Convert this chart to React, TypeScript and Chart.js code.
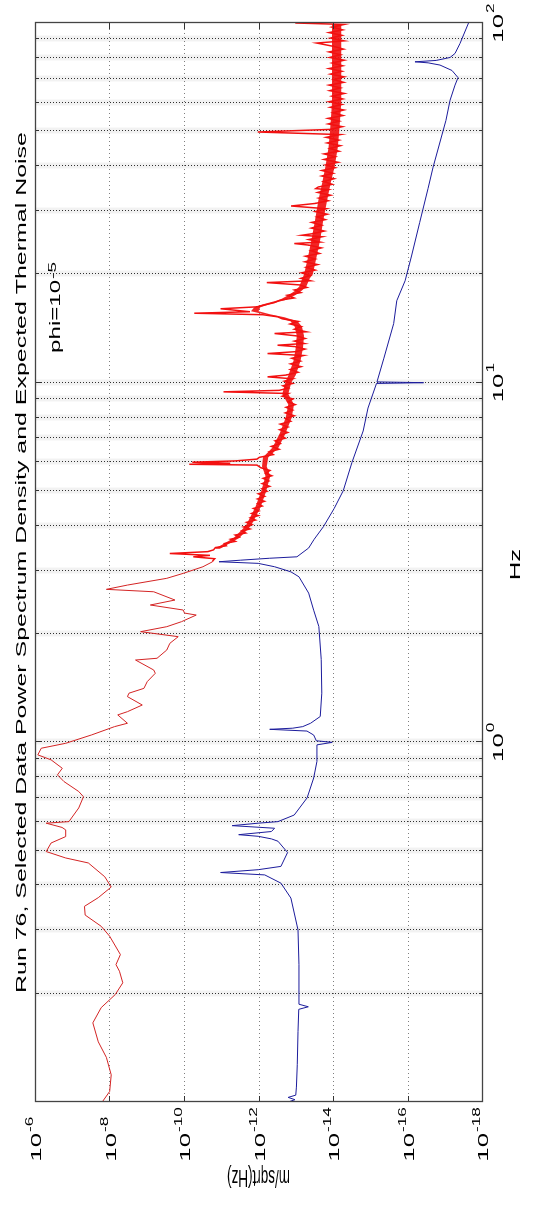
import React, { useEffect, useRef } from 'react';
import { Chart, registerables } from 'chart.js';

Chart.register(...registerables);

// ---------- data ----------
// Measured PSD (red), low-frequency part: [Hz, m/sqrt(Hz)]
const redLowBand: [number, number][] = [
  [0.1, 1.57e-8], [0.107, 9.9e-9], [0.119, 9.0e-9], [0.133, 1.21e-8], [0.147, 2.0e-8],
  [0.166, 2.8e-8], [0.183, 1.67e-8], [0.199, 7.0e-9], [0.2145, 4.4e-9], [0.231, 5.4e-9],
  [0.241, 6.7e-9], [0.257, 5.1e-9], [0.289, 9.9e-9], [0.308, 1.67e-8], [0.331, 4.5e-8],
  [0.35, 4.7e-8], [0.37, 2.0e-8], [0.396, 9.0e-9], [0.423, 1.34e-8], [0.462, 3.7e-8],
  [0.477, 1.5e-7], [0.497, 5.0e-7], [0.525, 3.7e-7], [0.547, 1.5e-7], [0.571, 1.5e-7],
  [0.58, 1.88e-7], [0.596, 5.0e-7], [0.602, 1.23e-7], [0.657, 6.7e-8], [0.706, 5.0e-8],
  [0.73, 6.7e-8], [0.778, 1.67e-7], [0.812, 2.5e-7], [0.847, 1.85e-7], [0.894, 3.7e-7],
  [0.923, 8.4e-7], [0.963, 6.8e-7], [0.994, 1.5e-7], [1.049, 3.0e-8], [1.106, 7.3e-9],
  [1.13, 3.3e-9], [1.192, 6.0e-9], [1.217, 3.3e-9], [1.27, 1.32e-9], [1.34, 3.3e-9],
  [1.37, 3.0e-9], [1.413, 1.19e-9], [1.475, 9.7e-10], [1.556, 5.9e-10], [1.589, 6.5e-10],
  [1.694, 2.0e-9], [1.713, 5.3e-10], [1.806, 2.9e-10], [1.885, 2.4e-10], [1.967, 1.43e-10],
  [2.031, 1.46e-9], [2.097, 2.9e-10], [2.165, 1.17e-10], [2.259, 4.7e-11], [2.288, 9.7e-11],
  [2.333, 1.05e-10], [2.409, 8.0e-10], [2.487, 1.75e-10], [2.622, 6.5e-10], [2.663, 1.21e-8],
  [2.737, 3.3e-9], [2.858, 2.9e-10], [2.95, 1.05e-10], [3.078, 3.1e-11], [3.178, 1.71e-11],
];

// Measured PSD (red), noisy high-frequency part: [Hz, m/sqrt(Hz)]
const redHighBand: [number, number][] = [
  [3.2, 1.68e-11], [3.24, 1.5e-11], [3.28, 5.6e-11], [3.31, 2.0e-11], [3.35, 2.4e-10],
  [3.39, 2.3e-11], [3.43, 1.6e-11], [3.48, 1.43e-11], [3.52, 7.3e-12], [3.57, 8.2e-12],
  [3.62, 4.2e-12], [3.67, 5.6e-12], [3.72, 3.3e-12], [3.77, 4.2e-12], [3.82, 2.2e-12],
  [3.87, 2.8e-12], [3.92, 1.7e-12], [3.97, 2.5e-12], [4.03, 1.5e-12], [4.09, 2.1e-12],
  [4.15, 1.2e-12], [4.21, 1.64e-12], [4.27, 1.0e-12], [4.33, 1.52e-12], [4.4, 9.7e-13],
  [4.47, 1.37e-12], [4.54, 7.9e-13], [4.61, 1.05e-12], [4.68, 6.9e-13], [4.75, 1.06e-12],
  [4.83, 6.8e-13], [4.91, 1.01e-12], [4.99, 5.9e-13], [5.07, 8.1e-13], [5.15, 5.0e-13],
  [5.24, 8.0e-13], [5.33, 5.3e-13], [5.42, 7.5e-13], [5.51, 4.4e-13], [5.6, 6.4e-13],
  [5.7, 4.9e-13], [5.8, 8.6e-13], [5.9, 1.1e-12], [5.93, 7.2e-11], [5.97, 5.7e-12],
  [6.01, 6.0e-11], [6.06, 4.2e-12], [6.13, 1.1e-12],
  [6.2, 9.5e-13], [6.31, 4.0e-13], [6.42, 5.2e-13], [6.53, 2.8e-13], [6.65, 4.5e-13],
  [6.77, 2.6e-13], [6.89, 3.6e-13], [7.01, 1.9e-13], [7.14, 2.6e-13], [7.27, 1.63e-13],
  [7.4, 2.7e-13], [7.53, 1.62e-13], [7.67, 2.6e-13], [7.81, 1.36e-13], [7.95, 1.9e-13],
  [8.09, 1.1e-13], [8.24, 1.9e-13], [8.39, 1.2e-13], [8.54, 1.82e-13], [8.69, 1.03e-13],
  [8.85, 1.6e-13], [9.01, 1.18e-13], [9.17, 2.3e-13], [9.33, 1.58e-13], [9.43, 8.65e-12],
  [9.52, 2.8e-13], [9.66, 1.58e-13], [9.8, 2.2e-13], [9.95, 1.22e-13], [10.1, 2.0e-13],
  [10.25, 1.22e-13], [10.38, 5.7e-13],
  [10.5, 1.8e-13], [10.69, 8.7e-14], [10.88, 1.4e-13], [11.08, 7.2e-14], [11.28, 1.37e-13],
  [11.48, 7.5e-14], [11.69, 1.28e-13], [11.9, 6.2e-14], [12.05, 5.7e-13], [12.2, 9.7e-14],
  [12.4, 5.6e-14], [12.6, 1.07e-13], [12.71, 3.1e-13], [12.85, 5.9e-14], [13.05, 1.09e-13],
  [13.27, 5.6e-14], [13.49, 9.4e-14], [13.7, 3.7e-13], [13.85, 5.2e-14], [14.08, 1.09e-13],
  [14.32, 7.1e-14], [14.56, 1.42e-13], [14.8, 8.6e-14], [15.05, 2.3e-13], [15.25, 3.1e-13],
  [15.45, 7.7e-13], [15.6, 5.3e-11], [15.75, 1.69e-12], [15.9, 4.2e-12], [16.05, 1.04e-11],
  [16.25, 1.1e-12], [16.45, 6.8e-13], [16.7, 3.7e-13], [16.95, 2.7e-13], [17.2, 1.1e-13],
  [17.5, 1.7e-13], [17.8, 7.3e-14], [18.1, 1.09e-13], [18.4, 5.0e-14], [18.7, 7.9e-14],
  [18.98, 6.0e-13], [19.2, 4.0e-14], [19.5, 7.3e-14], [19.85, 4.1e-14],
  [20.2, 7.0e-14], [20.56, 3.0e-14], [20.93, 5.3e-14], [21.3, 2.6e-14], [21.68, 5.7e-14],
  [22.07, 3.0e-14], [22.47, 5.5e-14], [22.87, 2.3e-14], [23.28, 3.9e-14], [23.7, 2.06e-14],
  [24.12, 4.4e-14], [24.37, 1.1e-13], [24.6, 2.2e-14], [25.0, 4.5e-14], [25.45, 1.96e-14],
  [25.7, 6.8e-14], [25.95, 3.6e-14], [26.4, 1.7e-14], [26.9, 3.8e-14], [27.4, 2.0e-14],
  [27.9, 3.75e-14], [28.4, 1.6e-14], [28.9, 2.7e-14], [29.4, 1.42e-14], [29.9, 3.0e-14],
  [30.45, 1.52e-14], [30.99, 1.33e-13], [31.5, 3.0e-14], [32.05, 1.33e-14], [32.6, 2.4e-14],
  [33.2, 1.16e-14], [33.8, 2.56e-14], [34.4, 1.34e-14], [34.64, 2.9e-14], [35.0, 2.5e-14],
  [35.6, 1.05e-14], [36.25, 1.8e-14], [36.9, 9.4e-15], [37.55, 2.0e-14], [38.2, 1.0e-14],
  [38.9, 2.0e-14], [39.6, 8.8e-15],
  [40.3, 1.58e-14], [41.0, 7.3e-15], [41.75, 1.76e-14], [42.5, 8.8e-15], [43.25, 1.74e-14],
  [44.0, 6.9e-15], [44.8, 1.22e-14], [45.6, 6.3e-15], [46.4, 1.43e-14], [47.25, 6.9e-15],
  [48.1, 1.52e-14], [48.95, 6.4e-15], [49.77, 1.04e-12], [50.6, 1.2e-14], [51.5, 5.6e-15],
  [52.4, 1.35e-14], [53.35, 6.8e-15], [54.3, 1.36e-14], [55.3, 5.4e-15], [56.3, 1.0e-14],
  [57.3, 5.1e-15], [58.3, 1.18e-14], [59.35, 5.8e-15], [60.4, 1.28e-14], [61.5, 5.5e-15],
  [62.6, 1.06e-14], [63.7, 5.0e-15], [64.85, 1.22e-14], [66.0, 6.3e-15], [67.2, 1.28e-14],
  [68.4, 5.2e-15], [69.6, 9.6e-15], [70.85, 5.0e-15], [72.1, 1.17e-14], [73.4, 5.8e-15],
  [74.7, 1.28e-14], [76.05, 5.5e-15], [77.4, 1.06e-14], [78.8, 5.0e-15], [80.2, 1.22e-14],
  [81.6, 6.3e-15], [83.1, 1.28e-14], [84.6, 5.2e-15], [86.1, 9.6e-15], [87.96, 2.75e-14],
  [89.2, 5.0e-15], [90.8, 1.17e-14], [92.4, 5.8e-15], [94.05, 1.28e-14], [95.7, 5.5e-15],
  [97.4, 1.06e-14], [99.1, 5.0e-15], [100, 1.03e-13],
];

// Dense core of the noisy red band (its inner edges as seen in the picture)
const bandHz = [
  3.45, 3.7, 4.0, 4.5, 5.0, 5.5, 5.85, 6.2, 6.6, 7.2, 8.0, 8.7, 9.3, 10.0, 10.5, 11.5, 12.5,
  13.5, 14.3, 14.8, 15.2, 15.5, 15.8, 16.2, 16.5, 17.0, 17.5, 18.0, 18.5, 19.5, 20, 22, 25,
  28, 32, 36, 40, 45, 50, 60, 80, 99.5,
];
const bandUpper = [
  1.5e-11, 4.6e-12, 2.2e-12, 1.23e-12, 8.5e-13, 6.5e-13, 8.0e-13, 7.6e-13, 4.2e-13, 2.75e-13,
  1.85e-13, 1.6e-13, 2.3e-13, 1.9e-13, 1.56e-13, 1.15e-13, 1.0e-13, 9.4e-14, 1.06e-13, 1.37e-13,
  3.1e-13, 7.2e-13, 1.6e-12, 1.3e-12, 7.8e-13, 2.7e-13, 1.6e-13, 1.05e-13, 8.1e-14, 6.6e-14,
  6.0e-14, 4.8e-14, 3.8e-14, 3.1e-14, 2.5e-14, 1.95e-14, 1.6e-14, 1.33e-14, 1.2e-14, 1.06e-14,
  1.06e-14, 1.06e-14,
];
const bandLower = [
  1.1e-11, 3.3e-12, 1.6e-12, 8.9e-13, 6.2e-13, 4.8e-13, 6.0e-13, 5.5e-13, 2.9e-13, 1.9e-13,
  1.29e-13, 1.12e-13, 1.58e-13, 1.33e-13, 1.0e-13, 7.4e-14, 6.4e-14, 6.0e-14, 6.8e-14, 8.8e-14,
  2.0e-13, 5.0e-13, 1.0e-12, 9.0e-13, 5.3e-13, 1.8e-13, 1.05e-13, 7.0e-14, 5.2e-14, 4.2e-14,
  3.5e-14, 2.85e-14, 2.2e-14, 1.85e-14, 1.46e-14, 1.15e-14, 9.0e-15, 7.5e-15, 6.8e-15, 6.0e-15,
  6.0e-15, 6.0e-15,
];

// Expected thermal noise (blue): [Hz, m/sqrt(Hz)]
const thermalNoise: [number, number][] = [
  [0.1, 1.6e-13], [0.1015, 1.05e-13], [0.103, 1.6e-13], [0.1045, 1.0e-13], [0.11, 9.6e-14],
  [0.127, 9.1e-14], [0.157, 8.7e-14], [0.181, 8.3e-14], [0.184, 4.6e-14], [0.187, 8.2e-14],
  [0.199, 8.2e-14], [0.241, 8.2e-14], [0.301, 8.7e-14], [0.369, 1.35e-13], [0.406, 2.5e-13],
  [0.428, 6.8e-13], [0.4346, 1.04e-11], [0.4425, 1.02e-12], [0.452, 2.5e-13], [0.494, 1.66e-13],
  [0.531, 3.0e-13], [0.539, 4.5e-13], [0.548, 1.02e-12], [0.5537, 3.4e-12], [0.565, 4.5e-13],
  [0.577, 3.7e-13], [0.5867, 5.1e-12], [0.596, 1.02e-12], [0.602, 3.0e-13], [0.628, 1.1e-13],
  [0.701, 4.95e-14], [0.796, 3.3e-14], [0.885, 2.7e-14], [0.984, 2.7e-14], [1.0, 1.05e-14],
  [1.01, 2.8e-14], [1.048, 3.3e-14], [1.075, 5.0e-14], [1.087, 5.0e-13], [1.095, 1.2e-13],
  [1.106, 6.5e-14], [1.13, 4.0e-14], [1.18, 2.2e-14], [1.37, 2.0e-14], [1.7, 2.07e-14],
  [2.1, 2.4e-14], [2.33, 3.3e-14], [2.6, 4.5e-14], [2.886, 8.2e-14], [2.979, 1.35e-13],
  [3.078, 3.7e-13], [3.145, 1.02e-12], [3.178, 1.15e-11], [3.21, 3.0e-12], [3.25, 5.0e-13],
  [3.28, 9.3e-14], [3.47, 4.5e-14], [3.67, 3.2e-14], [3.98, 1.8e-14], [4.47, 9.3e-15],
  [5.01, 5.3e-15], [6.0, 3.1e-15], [7.34, 1.55e-15], [8.5, 1.15e-15], [9.95, 6.8e-16],
  [10.0, 3.7e-17], [10.05, 6.6e-16], [11.7, 4.3e-16], [14.6, 2.35e-16], [16.9, 1.94e-16],
  [19.2, 1.16e-16], [22.5, 7.8e-17], [27.9, 4.7e-17], [34.7, 2.8e-17], [39.7, 2.06e-17],
  [53.6, 9.3e-18], [61, 7.2e-18], [67.2, 5.3e-18], [70.5, 4.4e-18], [73.8, 6.4e-18],
  [76.4, 1.34e-17], [77.5, 2.8e-17], [78.0, 6.3e-17], [78.7, 1.7e-17], [80.2, 7.2e-18],
  [82.3, 5.3e-18], [87.7, 3.9e-18], [100, 2.3e-18],
];

// Axes / ticks / labels
const hzRange = [0.1, 100];
const ampRange = [1e-18, 1e-6];
const hzTickValues = [1, 10, 100];
const hzTickExponents = ['0', '1', '2'];
const ampTickValues = [1e-6, 1e-8, 1e-10, 1e-12, 1e-14, 1e-16, 1e-18];
const ampTickExponents = ['-6', '-8', '-10', '-12', '-14', '-16', '-18'];
const hzGridDecades = [0.1, 1, 10];
const hzGridMultipliers = [1, 2, 3, 4, 5, 6, 7, 8, 9];
const titleText = 'Run 76, Selected Data Power Spectrum Density and Expected Thermal Noise';
const xLabelText = 'Hz';
const yLabelText = 'm/sqrt(Hz)';
const noteBase = 'phi=10';
const noteExponent = '-5';
const notePosition = [12.1, 2.1e-7];

// ---------- drawing helpers ----------
const FONT = '"Liberation Sans", Arial, Helvetica, sans-serif';
const STRETCH = 1.72;

function stretchedText(
  ctx: CanvasRenderingContext2D, text: string, x: number, y: number, size: number,
  align: CanvasTextAlign, baseline: CanvasTextBaseline, rotation = 0
) {
  ctx.save();
  ctx.translate(x, y);
  ctx.scale(STRETCH, 1);
  if (rotation) ctx.rotate(rotation);
  ctx.font = `${size}px ${FONT}`;
  ctx.textAlign = align;
  ctx.textBaseline = baseline;
  ctx.fillText(text, 0, 0);
  ctx.restore();
}

function textWidth(ctx: CanvasRenderingContext2D, text: string, size: number) {
  ctx.save();
  ctx.font = `${size}px ${FONT}`;
  const w = ctx.measureText(text).width * STRETCH;
  ctx.restore();
  return w;
}

const BASE_SIZE = 15;
const SUP_SIZE = 10;

const hzGridValues = hzGridDecades.flatMap((d) => hzGridMultipliers.map((m) => d * m));

const matlabAxes = {
  id: 'matlabAxes',
  beforeDatasetsDraw(chart: any) {
    const { ctx, chartArea: a, scales } = chart;
    const xs = scales.x;
    const ys = scales.y;
    ctx.save();
    hzGridValues.forEach((v) => {
      if (v <= hzRange[0] * 1.0001 || v >= hzRange[1] * 0.9999) return;
      const px = Math.round(xs.getPixelForValue(v)) + 0.5;
      ctx.setLineDash([]);
      ctx.strokeStyle = 'rgba(0,0,0,0.05)';
      ctx.lineWidth = 6;
      ctx.beginPath();
      ctx.moveTo(px, a.top);
      ctx.lineTo(px, a.bottom);
      ctx.stroke();
      ctx.setLineDash([1, 2]);
      ctx.strokeStyle = 'rgba(0,0,0,0.8)';
      ctx.lineWidth = 1;
      ctx.beginPath();
      ctx.moveTo(px, a.top);
      ctx.lineTo(px, a.bottom);
      ctx.stroke();
    });
    ampTickValues.forEach((v) => {
      const py = Math.round(ys.getPixelForValue(v)) + 0.5;
      if (py <= a.top + 1 || py >= a.bottom - 1) return;
      ctx.setLineDash([1, 3]);
      ctx.strokeStyle = 'rgba(0,0,0,0.5)';
      ctx.lineWidth = 1;
      ctx.beginPath();
      ctx.moveTo(a.left, py);
      ctx.lineTo(a.right, py);
      ctx.stroke();
    });
    ctx.restore();
  },
  afterDatasetsDraw(chart: any) {
    const { ctx, chartArea: a, scales } = chart;
    const xs = scales.x;
    const ys = scales.y;
    ctx.save();
    ctx.setLineDash([]);
    ctx.strokeStyle = '#333';
    ctx.lineWidth = 1;
    hzGridValues.forEach((v) => {
      const px = Math.round(xs.getPixelForValue(v)) + 0.5;
      const major = hzTickValues.includes(v) || v === hzRange[0];
      const len = major ? 6 : 3;
      ctx.beginPath();
      ctx.moveTo(px, a.bottom);
      ctx.lineTo(px, a.bottom - len);
      ctx.moveTo(px, a.top);
      ctx.lineTo(px, a.top + len);
      ctx.stroke();
    });
    ampTickValues.forEach((v) => {
      const py = Math.round(ys.getPixelForValue(v)) + 0.5;
      ctx.beginPath();
      ctx.moveTo(a.left, py);
      ctx.lineTo(a.left + 6, py);
      ctx.moveTo(a.right, py);
      ctx.lineTo(a.right - 6, py);
      ctx.stroke();
    });
    ctx.strokeStyle = '#444';
    ctx.lineWidth = 1.3;
    ctx.strokeRect(Math.round(a.left) + 0.5, Math.round(a.top) + 0.5,
      Math.round(a.right - a.left), Math.round(a.bottom - a.top));
    ctx.restore();
  },
  afterDraw(chart: any) {
    const { ctx, chartArea: a, scales } = chart;
    const xs = scales.x;
    const ys = scales.y;
    ctx.save();
    ctx.fillStyle = '#000';
    hzTickValues.forEach((v, i) => {
      const cx = xs.getPixelForValue(v);
      const exp = hzTickExponents[i];
      const wb = textWidth(ctx, '10', BASE_SIZE);
      const ws = textWidth(ctx, exp, SUP_SIZE);
      const start = cx - (wb + 1 + ws) / 2;
      stretchedText(ctx, '10', start, a.bottom + 21, BASE_SIZE, 'left', 'alphabetic');
      stretchedText(ctx, exp, start + wb + 1, a.bottom + 12, SUP_SIZE, 'left', 'alphabetic');
    });
    ampTickValues.forEach((v, i) => {
      const cy = ys.getPixelForValue(v);
      stretchedText(ctx, '10', 72, cy + 6, BASE_SIZE, 'right', 'alphabetic');
      stretchedText(ctx, ampTickExponents[i], 73, cy - 2, SUP_SIZE, 'left', 'alphabetic');
    });
    stretchedText(ctx, titleText, (a.left + a.right) / 2, 26, 14.5, 'center', 'alphabetic');
    stretchedText(ctx, xLabelText, (a.left + a.right) / 2 - 2, a.bottom + 38, 15, 'center', 'alphabetic');
    stretchedText(ctx, yLabelText, 29, (a.top + a.bottom) / 2, 13.5, 'center', 'middle', -Math.PI / 2);
    const nx = xs.getPixelForValue(notePosition[0]);
    const ny = ys.getPixelForValue(notePosition[1]);
    stretchedText(ctx, noteBase, nx, ny, 14, 'left', 'alphabetic');
    const nw = textWidth(ctx, noteBase, 14);
    stretchedText(ctx, noteExponent, nx + nw + 1, ny - 4, 11, 'left', 'alphabetic');
    ctx.restore();
  },
};

const whiteArea = {
  id: 'whiteArea',
  beforeDraw(chart: any) {
    const { ctx, chartArea: a } = chart;
    ctx.save();
    ctx.fillStyle = '#ffffff';
    ctx.fillRect(0, 0, chart.width, chart.height);
    ctx.restore();
    void a;
  },
};

export default function App() {
  const canvasRef = useRef<HTMLCanvasElement>(null);

  useEffect(() => {
    const canvas = canvasRef.current;
    if (!canvas) return;
    const toPoints = (rows: [number, number][]) => rows.map(([x, y]) => ({ x, y }));
    const lastLow = redLowBand[redLowBand.length - 1];
    const chart = new Chart(canvas, {
      type: 'line',
      data: {
        datasets: [
          {
            label: 'Thermal noise',
            data: toPoints(thermalNoise),
            borderColor: '#1c1c9c',
            borderWidth: 1,
            pointRadius: 0,
            tension: 0,
            fill: false,
            order: 0,
          },
          {
            label: 'PSD (low)',
            data: toPoints(redLowBand),
            borderColor: '#d42424',
            borderWidth: 1,
            pointRadius: 0,
            tension: 0,
            fill: false,
            order: 1,
          },
          {
            label: 'PSD (high)',
            data: toPoints([lastLow, ...redHighBand]),
            borderColor: '#f21010',
            borderWidth: 1.5,
            pointRadius: 0,
            tension: 0,
            fill: false,
            order: 2,
          },
          {
            label: 'band upper',
            data: bandHz.map((x, i) => ({ x, y: bandUpper[i] })),
            borderWidth: 0,
            borderColor: 'rgba(0,0,0,0)',
            backgroundColor: 'rgba(240,20,20,0.92)',
            pointRadius: 0,
            tension: 0,
            fill: '+1',
            order: 3,
          },
          {
            label: 'band lower',
            data: bandHz.map((x, i) => ({ x, y: bandLower[i] })),
            borderWidth: 0,
            borderColor: 'rgba(0,0,0,0)',
            pointRadius: 0,
            tension: 0,
            fill: false,
            order: 4,
          },
        ],
      },
      options: {
        responsive: false,
        maintainAspectRatio: false,
        devicePixelRatio: 1,
        animation: false,
        events: [],
        layout: { padding: { left: 103, right: 23, top: 35, bottom: 51 } },
        plugins: {
          legend: { display: false },
          tooltip: { enabled: false },
          title: { display: false },
          filler: { propagate: false },
        },
        scales: {
          x: { type: 'logarithmic', min: hzRange[0], max: hzRange[1], display: false },
          y: { type: 'logarithmic', min: ampRange[0], max: ampRange[1], display: false },
        },
      },
      plugins: [whiteArea, matlabAxes],
    });
    return () => chart.destroy();
  }, []);

  return (
    <div style={{ position: 'fixed', left: 0, top: 0, width: 533, height: 1205, overflow: 'hidden', background: '#fff' }}>
      <div
        style={{
          position: 'absolute', left: 0, top: 0, width: 1205, height: 533,
          transformOrigin: '0 0', transform: 'translate(0px, 1205px) rotate(-90deg)',
        }}
      >
        <canvas ref={canvasRef} width={1205} height={533} style={{ display: 'block', width: 1205, height: 533 }} />
      </div>
    </div>
  );
}
